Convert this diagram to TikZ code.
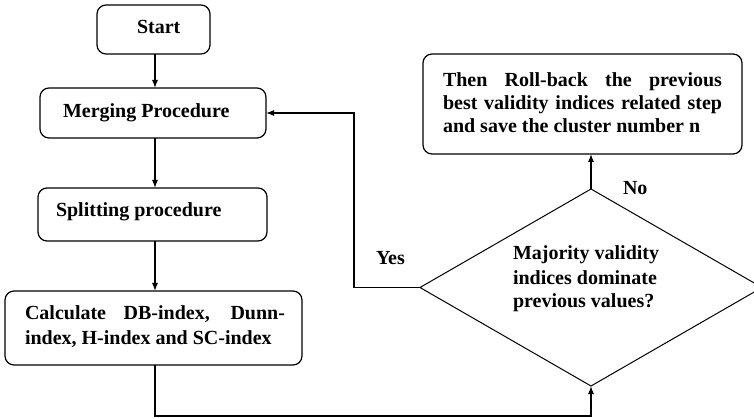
\documentclass[tikz,border=0pt]{standalone}
\usepackage{fontspec}
\setmainfont{Liberation Serif}
\usetikzlibrary{shapes.geometric,arrows.meta}
\begin{document}
\begin{tikzpicture}[x=1pt,y=-1pt,
  box/.style={draw, line width=1.2pt, rounded corners=9pt, inner sep=0pt, outer sep=0pt},
  dec/.style={draw, line width=1pt, diamond, inner sep=0pt, outer sep=0pt},
  txt/.style={inner sep=0pt, outer sep=0pt, anchor=base west, font=\bfseries\fontsize{20}{23.5}\selectfont},
  arr/.style={line width=1.2pt, -{Latex[length=8pt,width=6pt]}},
  ln/.style={line width=1.2pt}]
\useasboundingbox (0,0) rectangle (754,419);
\fill[white] (0,0) rectangle (754,419);
% boxes
\node[box, minimum width=113pt, minimum height=49pt] (start) at (153.5,29.5) {};
\node[box, minimum width=226pt, minimum height=50pt] (merge) at (153,113) {};
\node[box, minimum width=229pt, minimum height=53pt] (split) at (152.5,214.5) {};
\node[box, minimum width=297pt, minimum height=74pt] (calc) at (153.5,328) {};
\node[box, minimum width=319pt, minimum height=100pt] (roll) at (582.5,104) {};
\node[dec, minimum width=342pt, minimum height=197pt] (dia) at (591,287.5) {};
% texts
\node[txt] (startT) at (137,34) {Start};
\node[txt] (mergeT) at (63,118) {Merging Procedure};
\node[txt] (splitT) at (56,217) {Splitting procedure};
\node[txt] (calcT1) at (25,319) {\makebox[260pt][s]{Calculate DB-index, Dunn-}};
\node[txt] (calcT2) at (25,344) {index, H-index and SC-index};
\node[txt] (rollT1) at (443,86.5) {\makebox[279pt][s]{Then Roll-back the previous}};
\node[txt] (rollT2) at (443,110) {\makebox[279pt][s]{best validity indices related step}};
\node[txt] (rollT3) at (443,133) {and save the cluster number n};
\node[txt] (diaT1) at (513,260) {Majority validity};
\node[txt] (diaT2) at (513,284) {indices dominate};
\node[txt] (diaT3) at (513,308) {previous values?};
\node[txt] (yes) at (376,265) {Yes};
\node[txt] (no) at (623,195) {No};
% connectors
\coordinate (bot) at (591,416);
\coordinate (yc) at (354,287.5);
\draw[arr] ([xshift=1.5pt]start.south) -- ([xshift=1.5pt]start.south |- merge.north);
\draw[arr] ([xshift=2pt]merge.south) -- ([xshift=2pt]merge.south |- split.north);
\draw[arr] ([xshift=2.5pt]split.south) -- ([xshift=2.5pt]split.south |- calc.north);
\draw[arr] ([xshift=1.5pt]calc.south) |- (bot) -- (dia.south);
\draw[arr] (dia.north) -- (dia.north |- roll.south);
\draw[arr] (dia.west) -- (yc) |- (merge.east);
\end{tikzpicture}
\end{document}
